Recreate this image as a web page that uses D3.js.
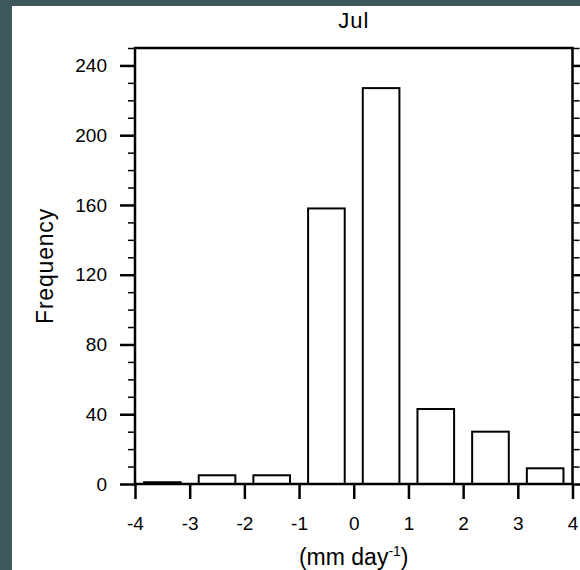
<!DOCTYPE html>
<html><head><meta charset="utf-8">
<script src="https://cdn.jsdelivr.net/npm/d3@7"></script>
<style>
html,body{margin:0;padding:0;background:#3c585d;}
svg{display:block;}
text{font-family:"Liberation Sans",Arial,Helvetica,sans-serif;fill:#000;}
</style></head>
<body>
<script>
const binCenters = [-3.5, -2.5, -1.5, -0.5, 0.5, 1.5, 2.5, 3.5];
const frequencies = [1, 5, 5, 158, 227, 43, 30, 9];
const yMajorTicks = [0, 40, 80, 120, 160, 200, 240];
const xTicks = [-4, -3, -2, -1, 0, 1, 2, 3, 4];
const titleText = "Jul";
const yLabel = "Frequency";

const W = 580, H = 570;
const svg = d3.select("body").append("svg").attr("width", W).attr("height", H);
svg.append("rect").attr("x", 0).attr("y", 0).attr("width", W).attr("height", H).attr("fill", "#3c585d");
svg.append("rect").attr("x", 12).attr("y", 6).attr("width", W - 12).attr("height", H - 6).attr("fill", "#fff");

const L = 135, R = 572.5, T = 48, B = 484;
const x = d3.scaleLinear().domain([-4, 4]).range([L, R]);
const y = d3.scaleLinear().domain([0, 250]).range([B, T]);
const barW = 0.67;

// bars
svg.append("g").selectAll("rect").data(binCenters).join("rect")
  .attr("x", (d) => x(d - barW / 2))
  .attr("width", (d) => x(d + barW / 2) - x(d - barW / 2))
  .attr("y", (d, i) => y(frequencies[i]))
  .attr("height", (d, i) => y(0) - y(frequencies[i]))
  .attr("fill", "#fff").attr("stroke", "#000").attr("stroke-width", 2);

const minorTicks = d3.range(0, 251, 10).filter(v => v % 40 !== 0);

function styleAxis(g, w) {
  g.select(".domain").remove();
  g.selectAll(".tick line").attr("stroke", "#000").attr("stroke-width", w);
  g.selectAll("text").attr("font-size", 19).attr("fill", "#000");
}

// left axis
svg.append("g").attr("transform", `translate(${L},0)`)
  .call(d3.axisLeft(y).tickValues(minorTicks).tickSize(7).tickFormat(""))
  .call(g => styleAxis(g, 1.5));
svg.append("g").attr("transform", `translate(${L},0)`)
  .call(d3.axisLeft(y).tickValues(yMajorTicks).tickSize(15).tickPadding(13).tickFormat(d => String(d)))
  .call(g => styleAxis(g, 2.5));
// right axis
svg.append("g").attr("transform", `translate(${R},0)`)
  .call(d3.axisRight(y).tickValues(minorTicks).tickSize(7).tickFormat(""))
  .call(g => styleAxis(g, 1.5));
svg.append("g").attr("transform", `translate(${R},0)`)
  .call(d3.axisRight(y).tickValues(yMajorTicks).tickSize(15).tickFormat(""))
  .call(g => styleAxis(g, 2.5));
// bottom axis
svg.append("g").attr("transform", `translate(0,${B})`)
  .call(d3.axisBottom(x).tickValues(xTicks).tickSize(15).tickPadding(18).tickFormat(d => String(d)))
  .call(g => styleAxis(g, 2.5));

// frame
svg.append("rect").attr("x", L).attr("y", T).attr("width", R - L).attr("height", B - T)
  .attr("fill", "none").attr("stroke", "#000").attr("stroke-width", 2.5);

// title
svg.append("text").attr("x", (L + R) / 2).attr("y", 28).attr("text-anchor", "middle")
  .attr("font-size", 22).attr("letter-spacing", 1).text(titleText);
// y label
svg.append("text").attr("transform", `translate(53,${(T + B) / 2}) rotate(-90)`)
  .attr("text-anchor", "middle").attr("font-size", 23).attr("letter-spacing", 0.8).text(yLabel);
// x label
const xl = svg.append("text").attr("x", (L + R) / 2).attr("y", 565).attr("text-anchor", "middle").attr("font-size", 23);
xl.append("tspan").text("(mm day");
xl.append("tspan").attr("font-size", 14).attr("dy", -9).text("-1");
xl.append("tspan").attr("dy", 9).text(")");
</script>
</body></html>
